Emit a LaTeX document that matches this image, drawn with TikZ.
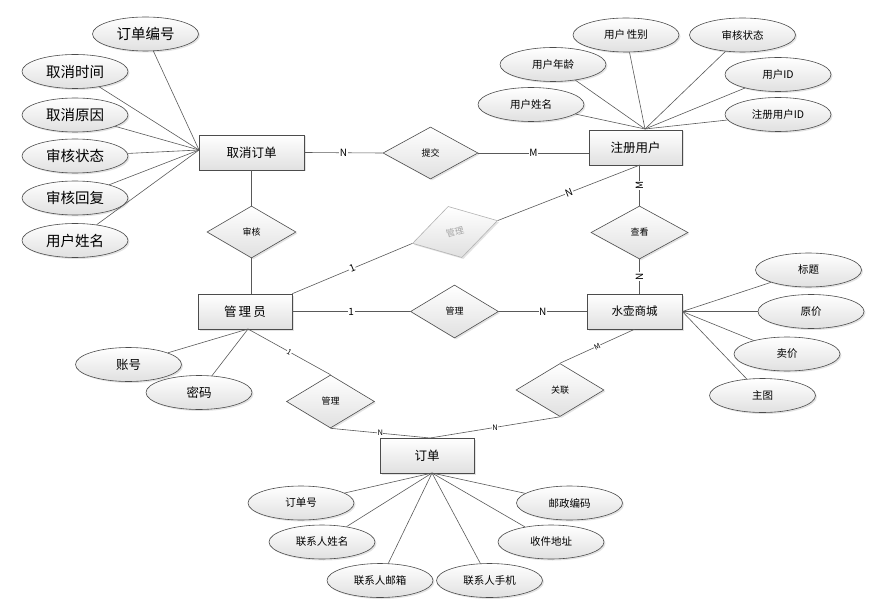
\documentclass[tikz,border=0pt]{standalone}
\usepackage{fontspec}
\setmainfont{Noto Sans CJK SC}
\usetikzlibrary{shapes.geometric,shadows}

\begin{document}
\begin{tikzpicture}[x=1pt,y=-1pt,
  shd/.style={drop shadow={opacity=0.22,shadow xshift=1.5pt,shadow yshift=-1.5pt},top color=white,bottom color=black!12},
  ent/.style={rectangle,draw=black!70,line width=0.6pt,shd,minimum height=35pt,inner sep=0pt},
  attr/.style={ellipse,draw=black!70,line width=0.6pt,shd,minimum width=106pt,minimum height=34pt,inner sep=0pt},
  rel/.style={diamond,draw=black!70,line width=0.6pt,shd,minimum width=88pt,minimum height=53pt,inner sep=0pt,font=\fontsize{9}{10}\selectfont},
  conn/.style={draw=black!65,line width=0.6pt},
  lbl/.style={fill=white,inner sep=0.6pt,font=\fontsize{10}{11}\selectfont},
  slbl/.style={fill=white,inner sep=0.4pt,font=\fontsize{7.5}{8}\selectfont},
  fbig/.style={font=\fontsize{14.5}{16}\selectfont},
  fent/.style={font=\fontsize{12.5}{14}\selectfont},
  fsml/.style={font=\fontsize{10.5}{12}\selectfont},
]
\useasboundingbox (0,0) rectangle (882,612);
% entities
\node[ent,fent,minimum width=105pt] (qxdd) at (251.5,152.5) {取消订单};
\node[ent,fent,minimum width=93pt] (zcyh) at (635.5,147.5) {注册用户};
\node[ent,fent,minimum width=94pt] (gly) at (245,311.5) {管\,理\,员};
\node[ent,font=\fontsize{11.5}{13}\selectfont,minimum width=95pt] (shsc) at (634.5,311.5) {水壶商城};
\node[ent,fent,minimum width=94pt] (dd) at (427,455.5) {订单};
% relations
\node[rel,minimum width=95pt,minimum height=52pt] (tj) at (430.5,153) {提交};
\node[rel,minimum width=89pt,minimum height=52pt] (sh) at (251.5,232) {审核};
\node[rel,minimum width=97pt] (ck) at (639.5,232.5) {查看};
\node[rel,rotate=15,draw=black!30,text=black!35] (gl2) at (455,232) {管理};
\node[rel] (gl1) at (454.5,311.5) {管理};
\node[rel] (gl3) at (330.5,401.5) {管理};
\node[rel] (gl4) at (560,390) {关联};
% attributes of 取消订单
\coordinate (qa) at (199,150);
\node[attr,fbig] (a1) at (145.5,34) {订单编号};
\node[attr,fbig] (a2) at (75,71.5) {取消时间};
\node[attr,fbig] (a3) at (75,115) {取消原因};
\node[attr,fbig] (a4) at (75,156) {审核状态};
\node[attr,fbig] (a5) at (75,198) {审核回复};
\node[attr,fbig] (a6) at (75,240.5) {用户姓名};
\draw[conn] (a1)--(qa); \draw[conn] (a2)--(qa); \draw[conn] (a3)--(qa);
\draw[conn] (a4)--(qa); \draw[conn] (a5)--(qa); \draw[conn] (a6)--(qa);
% attributes of 注册用户
\coordinate (zb) at (645,129);
\node[attr,fsml] (b1) at (626,35) {用户\,性别};
\node[attr,fsml] (b2) at (742.5,35) {审核状态};
\node[attr,fsml] (b3) at (553,64.5) {用户年龄};
\node[attr,fsml] (b4) at (778,74.5) {用户ID};
\node[attr,fsml] (b5) at (531,104.5) {用户姓名};
\node[attr,fsml] (b6) at (778,114.5) {注册用户ID};
\draw[conn] (b1)--(zb); \draw[conn] (b2)--(zb); \draw[conn] (b3)--(zb);
\draw[conn] (b4)--(zb); \draw[conn] (b5)--(zb); \draw[conn] (b6)--(zb);
% attributes of 水壶商城
\node[attr,fsml] (c1) at (808.5,270) {标题};
\node[attr,fsml] (c2) at (811,311.5) {原价};
\node[attr,fsml] (c3) at (787,354) {卖价};
\node[attr,fsml] (c4) at (762.5,395.5) {主图};
\draw[conn] (c1)--(shsc.east); \draw[conn] (c2)--(shsc.east);
\draw[conn] (c3)--(shsc.east); \draw[conn] (c4)--(shsc.east);
% attributes of 管理员
\coordinate (gy) at (248,329);
\node[attr,fent] (d1) at (128.5,364.5) {账号};
\node[attr,fent] (d2) at (199,392.5) {密码};
\draw[conn] (d1)--(gy); \draw[conn] (d2)--(gy);
% attributes of 订单
\coordinate (da) at (432,473);
\node[attr,fsml] (e1) at (301,503) {订单号};
\node[attr,fsml] (e2) at (322,542) {联系人姓名};
\node[attr,fsml] (e3) at (380,580.5) {联系人邮箱};
\node[attr,fsml] (e4) at (489.5,580.5) {联系人手机};
\node[attr,fsml] (e5) at (551,542) {收件地址};
\node[attr,fsml] (e6) at (569.5,503) {邮政编码};
\draw[conn] (e1)--(da); \draw[conn] (e2)--(da); \draw[conn] (e3)--(da);
\draw[conn] (e4)--(da); \draw[conn] (e5)--(da); \draw[conn] (e6)--(da);
% relation links
\coordinate (zs) at (640,165);
\coordinate (dt) at (430,438);
\draw[conn] (qxdd.east) -- node[lbl]{N} (tj.west);
\draw[conn] (tj.east) -- node[lbl]{M} (tj.east -| zcyh.west);
\draw[conn] (qxdd.south) -- (sh.north);
\draw[conn] (sh.south) -- (sh.south |- gly.north);
\draw[conn] (ck.north) -- node[lbl,rotate=90]{M} (ck.north |- zcyh.south);
\draw[conn] (ck.south) -- node[lbl,rotate=90]{N} (ck.south |- shsc.north);
\draw[conn] (gly.north east) -- node[lbl,sloped]{1} (gl2.west);
\draw[conn] (gl2.east) -- node[lbl,sloped]{N} (zs);
\draw[conn] (gly.east) -- node[lbl]{1} (gl1.west);
\draw[conn] (gl1.east) -- node[lbl]{N} (shsc.west);
\draw[conn] (gy) -- node[slbl,sloped]{1} (gl3.north);
\draw[conn] (gl3.south) -- node[slbl]{N} (dt);
\draw[conn] (gl4.south) -- node[slbl]{N} (dt);
\draw[conn] (gl4.north) -- node[slbl,sloped]{M} (shsc.south);
\end{tikzpicture}
\end{document}
